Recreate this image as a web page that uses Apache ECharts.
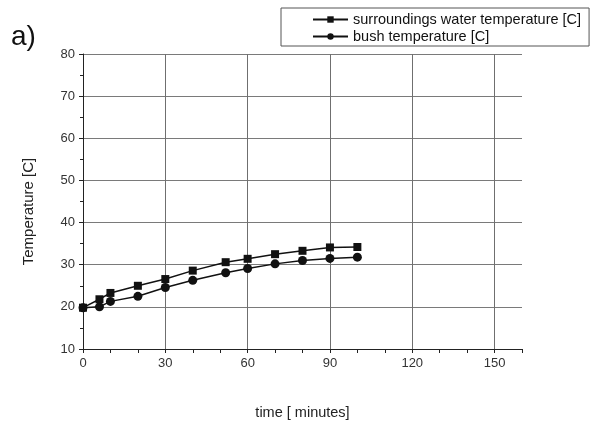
<!DOCTYPE html>
<html>
<head>
    <meta charset="utf-8"/>
    <title>ECharts</title>
    <script src="https://cdn.jsdelivr.net/npm/echarts@6/dist/echarts.min.js"></script>
</head>
<body style="margin:0;background:#fff">
<div id="main" style="width: 598px; height: 425px"></div>
<script type="text/javascript">
    // time [minutes]
    var waterTime = [0, 6, 10, 20, 30, 40, 52, 60, 70, 80, 90, 100];
    var waterTemp = [19.8, 21.8, 23.3, 25.0, 26.6, 28.6, 30.6, 31.4, 32.5, 33.3, 34.1, 34.2];
    var bushTime = [0, 6, 10, 20, 30, 40, 52, 60, 70, 80, 90, 100];
    var bushTemp = [19.8, 20.0, 21.3, 22.5, 24.6, 26.3, 28.1, 29.1, 30.2, 31.0, 31.5, 31.8];

    function pairs(xs, ys) {
        return xs.map(function (x, i) { return [x, ys[i]]; });
    }

    var myChart = echarts.init(document.getElementById("main"));
    var font = 'Liberation Sans, Arial, sans-serif';

    var option = {
        backgroundColor: '#fff',
        animation: false,
        textStyle: {fontFamily: font},
        title: {
            text: 'a)',
            left: 6,
            top: 18,
            textStyle: {fontSize: 28, fontWeight: 'normal', color: '#111', fontFamily: font}
        },
        legend: {
            orient: 'vertical',
            left: 281,
            top: 8,
            padding: [4, 8, 2, 31],
            itemGap: 2,
            itemWidth: 35,
            itemHeight: 8,
            borderColor: '#555',
            borderWidth: 1,
            textStyle: {fontSize: 14.5, color: '#111', fontFamily: font},
            data: ['surroundings water temperature [C]', 'bush temperature [C]']
        },
        grid: {left: 83, right: 76, top: 54, bottom: 67},
        xAxis: {
            type: 'value',
            min: 0,
            max: 160,
            interval: 30,
            name: 'time [ minutes]',
            nameLocation: 'middle',
            nameGap: 56,
            nameTextStyle: {fontSize: 14.5, color: '#222'},
            axisLine: {lineStyle: {color: '#222', width: 1}},
            axisTick: {show: true, length: 4, lineStyle: {color: '#222'}},
            minorTick: {show: true, splitNumber: 3, length: 4, lineStyle: {color: '#222'}},
            axisLabel: {fontSize: 13, color: '#333', margin: 8,
                showMaxLabel: false},
            splitLine: {show: true, showMaxLine: false, lineStyle: {color: '#6f6f6f', width: 1}}
        },
        yAxis: {
            type: 'value',
            min: 10,
            max: 80,
            interval: 10,
            name: 'Temperature [C]',
            nameLocation: 'middle',
            nameGap: 47,
            nameTextStyle: {fontSize: 15, color: '#222', padding: [0, 20, 0, 0]},
            axisLine: {show: true, lineStyle: {color: '#222', width: 1}},
            axisTick: {show: true, length: 4, lineStyle: {color: '#222'}},
            minorTick: {show: true, splitNumber: 2, length: 3, lineStyle: {color: '#222'}},
            axisLabel: {fontSize: 13, color: '#333', margin: 8},
            splitLine: {show: true, lineStyle: {color: '#7a7a7a', width: 1}}
        },
        series: [
            {
                name: 'surroundings water temperature [C]',
                type: 'line',
                symbol: 'rect',
                symbolSize: 8,
                itemStyle: {color: '#111'},
                lineStyle: {color: '#111', width: 1.5},
                data: pairs(waterTime, waterTemp)
            },
            {
                name: 'bush temperature [C]',
                type: 'line',
                symbol: 'circle',
                symbolSize: 9,
                itemStyle: {color: '#111'},
                lineStyle: {color: '#111', width: 1.5},
                data: pairs(bushTime, bushTemp)
            }
        ]
    };

    myChart.setOption(option);
</script>
</body>
</html>
